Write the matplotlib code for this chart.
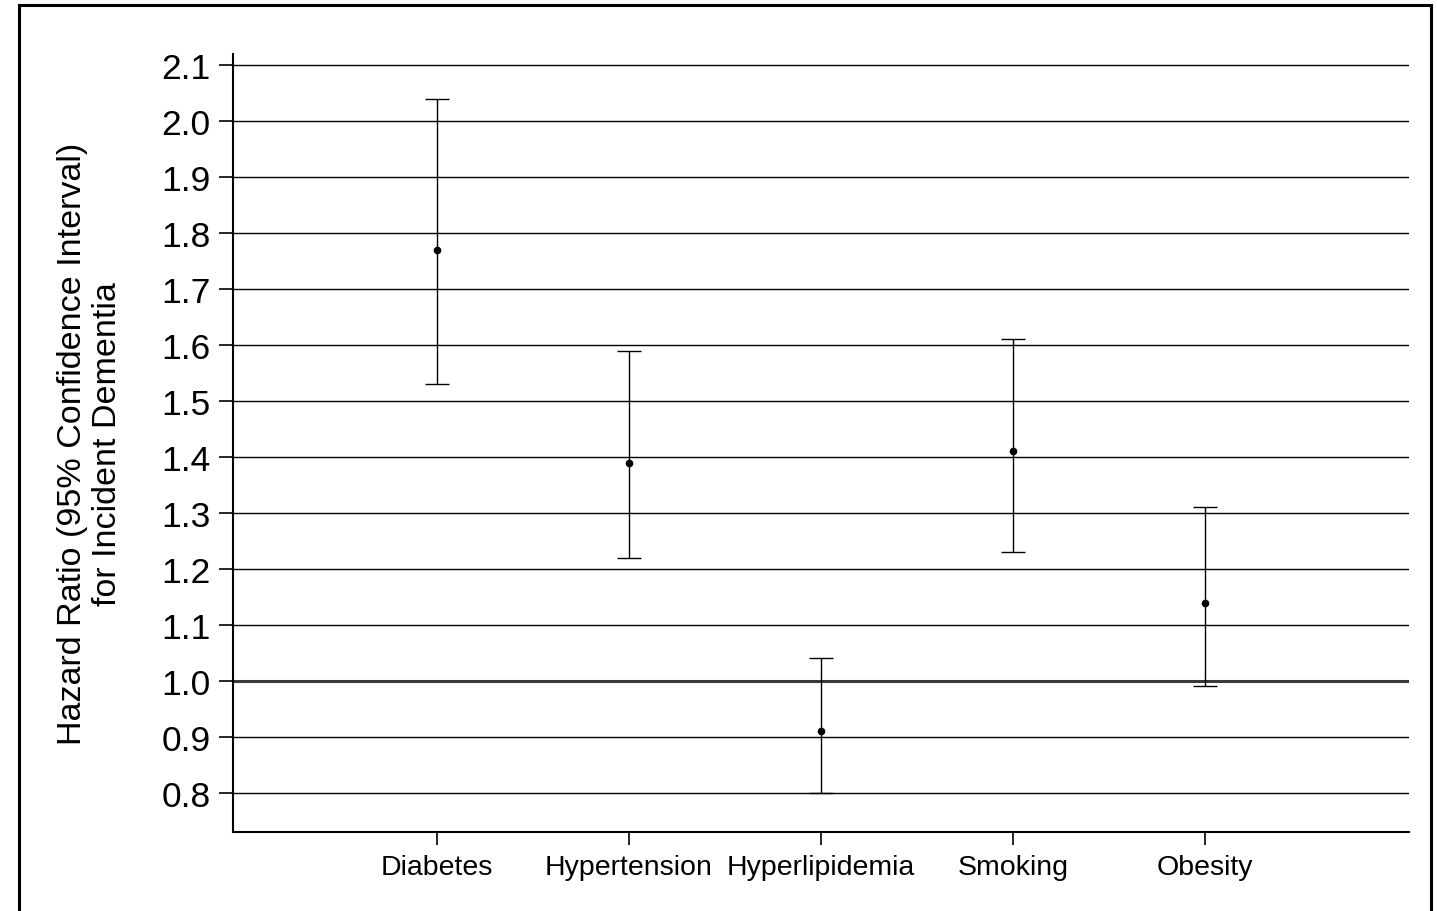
import matplotlib.pyplot as plt
from matplotlib.patches import Rectangle
import numpy as np

plt.rcParams['font.family'] = ['Liberation Sans', 'DejaVu Sans']

# hazard ratios with 95% CI
factors = ["Diabetes", "Hypertension", "Hyperlipidemia", "Smoking", "Obesity"]
hr = [1.77, 1.39, 0.91, 1.41, 1.14]
ci_low = [1.53, 1.22, 0.80, 1.23, 0.99]
ci_high = [2.04, 1.59, 1.04, 1.61, 1.31]
yticks = [0.8, 0.9, 1.0, 1.1, 1.2, 1.3, 1.4, 1.5, 1.6, 1.7, 1.8, 1.9, 2.0, 2.1]

W, H = 1437, 912
fig = plt.figure(figsize=(W / 100, H / 100), dpi=100)
ax = fig.add_axes([233 / W, 1 - 833 / H, (1409 - 233) / W, (833 - 55) / H])

x = np.arange(1, len(factors) + 1)
hr = np.array(hr)
err = np.vstack([hr - np.array(ci_low), np.array(ci_high) - hr])

# horizontal reference lines
for t in yticks:
    if t == 1.0:
        ax.axhline(t, color="#3a3a3a", lw=2.2, zorder=1)
    else:
        ax.axhline(t, color="black", lw=1.0, zorder=1)

ax.errorbar(x, hr, yerr=err, fmt="o", color="black", ms=4.5,
            elinewidth=1.0, capsize=8.5, capthick=1.0, ecolor="black", zorder=3)

ax.set_xlim(-0.0625, 6.0625)
ax.set_ylim(0.73, 2.12)
ax.set_xticks(x)
ax.set_xticklabels(factors, fontsize=20.5)
ax.set_yticks(yticks)
ax.set_yticklabels([f"{t:.1f}" for t in yticks], fontsize=25.5)
ax.tick_params(axis="y", length=10, width=1.2, pad=6)
ax.tick_params(axis="x", length=9, width=1.2, pad=7)

for s in ["top", "right"]:
    ax.spines[s].set_visible(False)
for s in ["left", "bottom"]:
    ax.spines[s].set_linewidth(1.5)

ax.set_ylabel("Hazard Ratio (95% Confidence Interval)\nfor Incident Dementia",
              fontsize=24.5, linespacing=1.15, labelpad=28)

# outer border
fig.patches.append(Rectangle((19 / W, -0.05), (1431 - 19) / W, 1.05 - 6 / H,
                             transform=fig.transFigure, fill=False,
                             edgecolor="black", lw=2.2))

fig.savefig("out.png", dpi=100)
